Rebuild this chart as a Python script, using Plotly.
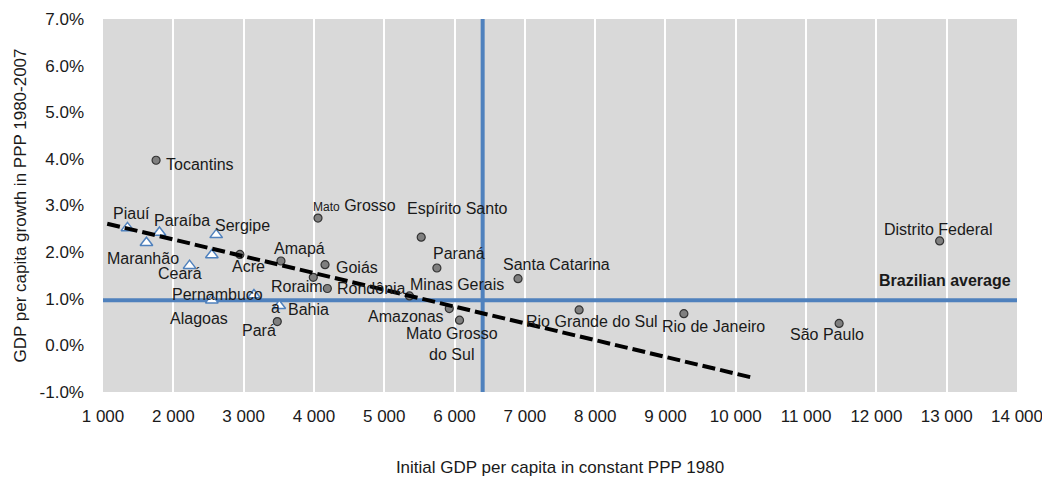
import numpy as np
import plotly.graph_objects as go

# ---------------- data ----------------
states = ["Tocantins", "Acre", "Amapá", "Pará", "Rondônia", "Goiás", "Roraima",
          "Mato Grosso", "Espírito Santo", "Paraná", "Minas Gerais", "Amazonas",
          "Mato Grosso do Sul", "Santa Catarina", "Rio Grande do Sul",
          "Rio de Janeiro", "São Paulo", "Distrito Federal"]
gdp0 = [1755, 2947, 3531, 3479, 3991, 4158, 4191, 4058, 5526, 5749, 5359, 5925,
        6071, 6903, 7772, 9262, 11470, 12900]
growth = [3.97, 1.95, 1.81, 0.51, 1.46, 1.73, 1.22, 2.73, 2.32, 1.66, 1.06, 0.79,
          0.54, 1.43, 0.76, 0.68, 0.47, 2.24]

ne_states = ["Piauí", "Paraíba", "Maranhão", "Sergipe", "Rio Grande do Norte",
             "Ceará", "Alagoas", "Pernambuco", "Bahia"]
ne_gdp0 = [1348, 1803, 1618, 2610, 2548, 2231, 2548, 3147, 3507]
ne_growth = [2.52, 2.42, 2.20, 2.37, 1.94, 1.71, 0.97, 1.08, 0.85]

avg_growth = 0.97      # Brazilian average growth (%)
avg_gdp0 = 6400        # Brazilian average initial GDP per capita

trend_x = [1060, 10230]
trend_y = [2.61, -0.69]

x_ticks = list(range(1000, 15000, 1000))
y_ticks = [-1, 0, 1, 2, 3, 4, 5, 6, 7]
y_ticklabels = ["-1.0%", "0.0%", "1.0%", "2.0%", "3.0%", "4.0%", "5.0%", "6.0%", "7.0%"]

# ---------------- label placement (pixel offsets: dx right, dy down) ----------------
label_text = {
    "Tocantins": "Tocantins", "Acre": "Acre", "Amapá": "Amapá", "Pará": "Pará",
    "Rondônia": "Rondônia", "Goiás": "Goiás", "Roraima": "Roraim<br>a",
    "Mato Grosso": "<span style='font-size:12px'>Mato</span> Grosso",
    "Espírito Santo": "Espírito Santo", "Paraná": "Paraná",
    "Minas Gerais": "Minas Gerais", "Amazonas": "Amazonas",
    "Mato Grosso do Sul": "Mato Grosso<br>do Sul", "Santa Catarina": "Santa Catarina",
    "Rio Grande do Sul": "Rio Grande do Sul", "Rio de Janeiro": "Rio de Janeiro",
    "São Paulo": "São Paulo", "Distrito Federal": "Distrito Federal",
    "Piauí": "Piauí", "Paraíba": "Paraíba", "Maranhão": "Maranhão",
    "Sergipe": "Sergipe", "Rio Grande do Norte": "", "Ceará": "Ceará",
    "Alagoas": "Alagoas", "Pernambuco": "Pernambuco", "Bahia": "Bahia",
}
label_off = {
    "Tocantins": (44, 4), "Acre": (9, 12), "Amapá": (19, -12), "Pará": (-18, 9),
    "Rondônia": (58, 11), "Goiás": (32, 3), "Roraima": (-30, 9),
    "Mato Grosso": (36, -13), "Espírito Santo": (36, -29), "Paraná": (22, -14),
    "Minas Gerais": (48, -11), "Amazonas": (-43, 8), "Mato Grosso do Sul": (-8, 24),
    "Santa Catarina": (38, -14), "Rio Grande do Sul": (13, 12),
    "Rio de Janeiro": (30, 13), "São Paulo": (-12, 11), "Distrito Federal": (-2, -11),
    "Piauí": (4, -14), "Paraíba": (23, -12), "Maranhão": (-3, 16), "Sergipe": (26, -9),
    "Rio Grande do Norte": (0, 0), "Ceará": (-10, 8), "Alagoas": (-13, 18),
    "Pernambuco": (-36, -1), "Bahia": (29, 4),
}

FONT = "Liberation Sans, Arial, sans-serif"
TXT = "#1a1a1a"
BLUE = "#4f81bd"

x_all = gdp0 + ne_gdp0
y_all = [g / 100 for g in growth] + [g / 100 for g in ne_growth]
names_all = states + ne_states

fig = go.Figure()

# reference lines (Brazilian averages)
fig.add_trace(go.Scatter(x=[x_ticks[0], x_ticks[-1]], y=[avg_growth / 100] * 2,
                         mode="lines", line=dict(color=BLUE, width=4),
                         hoverinfo="skip", showlegend=False))
fig.add_trace(go.Scatter(x=[avg_gdp0, avg_gdp0], y=[y_ticks[0] / 100, y_ticks[-1] / 100],
                         mode="lines", line=dict(color=BLUE, width=4),
                         hoverinfo="skip", showlegend=False))

# states (circles)
fig.add_trace(go.Scatter(x=gdp0, y=[g / 100 for g in growth], mode="markers",
                         marker=dict(symbol="circle", size=8, color="#7f7f7f",
                                     line=dict(color="#333333", width=1.2)),
                         text=states, showlegend=False))
# north-east states (triangles)
fig.add_trace(go.Scatter(x=ne_gdp0, y=[g / 100 for g in ne_growth], mode="markers",
                         marker=dict(symbol="triangle-up", size=11, color="white",
                                     line=dict(color=BLUE, width=1.5)),
                         text=ne_states, showlegend=False))

# trend line
fig.add_trace(go.Scatter(x=trend_x, y=[t / 100 for t in trend_y], mode="lines",
                         line=dict(color="black", width=4, dash="13px,5px"),
                         hoverinfo="skip", showlegend=False))

annotations = []
for name, xv, yv in zip(names_all, x_all, y_all):
    t = label_text[name]
    if not t:
        continue
    dx, dy = label_off[name]
    annotations.append(dict(
        x=xv, y=yv, xref="x", yref="y", text=t, showarrow=False,
        xshift=dx, yshift=-dy, xanchor="center", yanchor="middle",
        align="left" if name == "Roraima" else "center",
        font=dict(family=FONT, size=16, color=TXT)))

annotations.append(dict(
    x=13940, y=avg_growth / 100, xref="x", yref="y", text="<b>Brazilian average</b>",
    showarrow=False, xanchor="right", yanchor="bottom", yshift=9,
    font=dict(family=FONT, size=16, color=TXT)))

# page body has an 8px margin: figure is sized/offset so the plot lands on the same pixels
fig.update_layout(
    width=1042, height=469,
    margin=dict(l=95, r=33, t=11, b=85, autoexpand=False),
    paper_bgcolor="white", plot_bgcolor="#d9d9d9",
    separators=". ",
    font=dict(family=FONT, size=17, color=TXT),
    annotations=annotations,
    showlegend=False,
)
fig.update_xaxes(
    range=[x_ticks[0], x_ticks[-1]], tickvals=x_ticks, tickformat=",d",
    showgrid=True, gridcolor="white", gridwidth=2, zeroline=False,
    showline=False, ticks="", ticklabelstandoff=12, automargin=False,
    ticklabeloverflow="allow",
    tickfont=dict(family=FONT, size=17, color=TXT),
    title=dict(text="Initial GDP per capita in constant PPP 1980", standoff=43,
               font=dict(family=FONT, size=17, color=TXT)),
)
fig.update_yaxes(
    range=[y_ticks[0] / 100, y_ticks[-1] / 100], tickvals=[v / 100 for v in y_ticks],
    ticktext=y_ticklabels, showgrid=False, zeroline=False, showline=False, ticks="",
    ticklabelstandoff=18, automargin=False, ticklabeloverflow="allow",
    tickfont=dict(family=FONT, size=17, color=TXT),
    title=dict(text="GDP per capita growth in PPP 1980-2007", standoff=8,
               font=dict(family=FONT, size=17, color=TXT)),
)

fig.write_html("out.html")
